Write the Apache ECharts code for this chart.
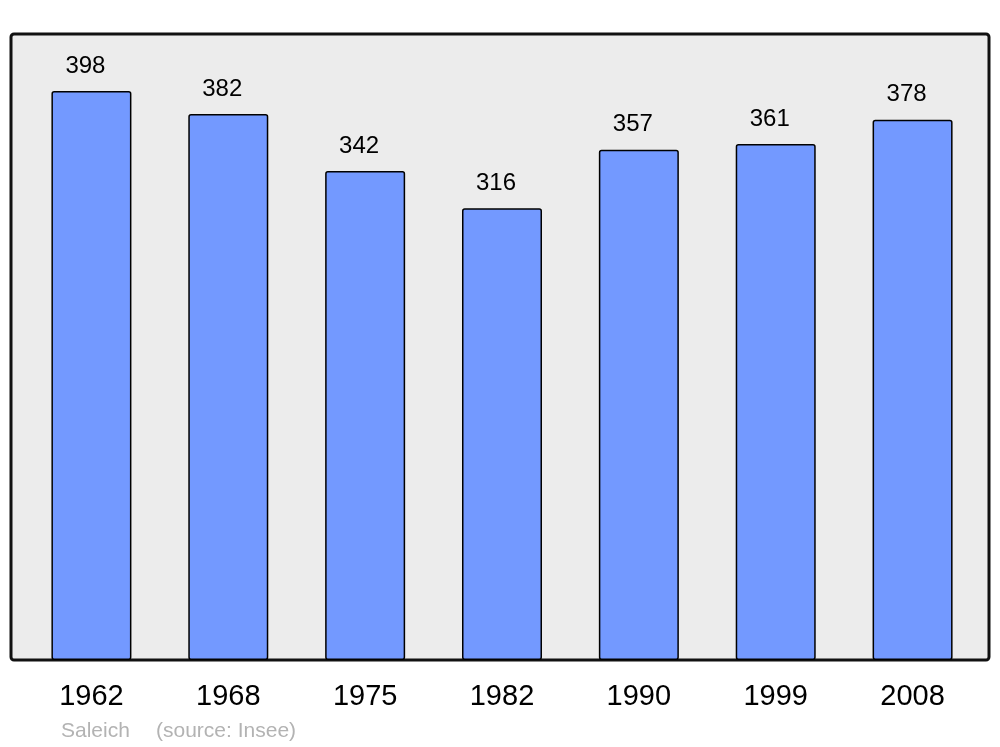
<!DOCTYPE html>
<html>
<head>
<meta charset="utf-8">
<script src="https://cdn.jsdelivr.net/npm/echarts@6/dist/echarts.min.js"></script>
<style>html,body{margin:0;padding:0;background:#fff}#c{width:1000px;height:747px}</style>
</head>
<body>
<div id="c"></div>
<script>
var years = ['1962','1968','1975','1982','1990','1999','2008'];
var population = [398, 382, 342, 316, 357, 361, 378];
var townName = 'Saleich';
var sourceText = '(source: Insee)';

var FONT = '"Liberation Sans", Arial, sans-serif';
var chart = echarts.init(document.getElementById('c'), null, {renderer: 'canvas'});
chart.setOption({
  animation: false,
  backgroundColor: '#ffffff',
  grid: {left: 23, right: 19, top: 31, bottom: 87, containLabel: false},
  graphic: [
    {type: 'rect', z: 0, shape: {x: 11, y: 34, width: 978, height: 626, r: 3},
     style: {fill: '#ececec', stroke: '#111111', lineWidth: 3}},
    {type: 'text', left: 61, top: 721, z: 5,
     style: {text: townName, fill: '#b3b3b3', font: '21px ' + FONT}},
    {type: 'text', left: 156, top: 721, z: 5,
     style: {text: sourceText, fill: '#b3b3b3', font: '21px ' + FONT}}
  ],
  xAxis: {
    type: 'category', data: years,
    axisLine: {show: false}, axisTick: {show: false},
    axisLabel: {color: '#000', fontSize: 29, fontFamily: FONT, margin: 22}
  },
  yAxis: {
    type: 'value', min: 0, max: 440,
    show: false, splitLine: {show: false}
  },
  series: [{
    type: 'bar', z: 2, data: population, barWidth: 80,
    itemStyle: {color: '#7399ff', borderColor: '#000', borderWidth: 1.5, borderRadius: 2},
    label: {show: true, position: 'top', distance: 13, offset: [-6, 0],
      color: '#000', fontSize: 24, fontFamily: FONT}
  }]
});
</script>
</body>
</html>
